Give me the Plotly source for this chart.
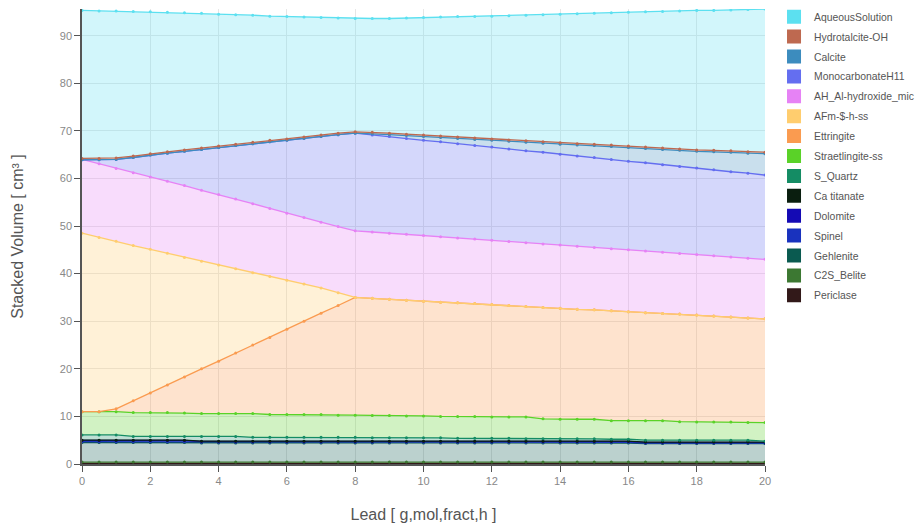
import plotly.graph_objects as go

# x values (Lead amount)
lead = [0, 0.5, 1, 1.5, 2, 2.5, 3, 3.5, 4, 4.5, 5, 5.5, 6, 6.5, 7, 7.5, 8, 8.5, 9, 9.5,
        10, 10.5, 11, 11.5, 12, 12.5, 13, 13.5, 14, 14.5, 15, 15.5, 16, 16.5, 17, 17.5,
        18, 18.5, 19, 19.5, 20]

# cumulative (stacked) volume tops, bottom phase first
top_periclase = [0.15] * 41
top_c2s_belite = [0.4] * 41
top_gehlenite = [4.5, 4.5, 4.5, 4.5, 4.5, 4.5, 4.5, 4.4, 4.4, 4.4, 4.4, 4.4, 4.4, 4.4, 4.4, 4.4,
                 4.4, 4.4, 4.4, 4.4, 4.4, 4.4, 4.4, 4.4, 4.4, 4.4, 4.4, 4.4, 4.4, 4.4, 4.4, 4.4,
                 4.4, 4.3, 4.3, 4.3, 4.3, 4.3, 4.3, 4.3, 4.3]
top_spinel = [4.7, 4.7, 4.7, 4.7, 4.7, 4.7, 4.7, 4.55, 4.55, 4.55, 4.55, 4.55, 4.55, 4.55, 4.55, 4.55,
              4.55, 4.55, 4.55, 4.55, 4.55, 4.55, 4.55, 4.55, 4.55, 4.55, 4.55, 4.55, 4.55, 4.55, 4.55, 4.55,
              4.55, 4.4, 4.4, 4.4, 4.4, 4.4, 4.4, 4.4, 4.4]
top_dolomite = [4.95, 4.95, 4.95, 4.95, 4.95, 4.95, 4.95, 4.75, 4.75, 4.75, 4.75, 4.75, 4.75, 4.75, 4.75, 4.75,
                4.75, 4.75, 4.75, 4.75, 4.75, 4.75, 4.75, 4.75, 4.75, 4.75, 4.75, 4.75, 4.75, 4.75, 4.75, 4.75,
                4.75, 4.55, 4.55, 4.55, 4.55, 4.55, 4.55, 4.55, 4.55]
top_ca_titanate = [5.0, 5.0, 5.0, 5.0, 5.0, 5.0, 5.0, 4.8, 4.8, 4.8, 4.8, 4.8, 4.8, 4.8, 4.8, 4.8,
                   4.8, 4.8, 4.8, 4.8, 4.8, 4.8, 4.8, 4.8, 4.8, 4.8, 4.8, 4.8, 4.8, 4.8, 4.8, 4.8,
                   4.8, 4.6, 4.6, 4.6, 4.6, 4.6, 4.6, 4.6, 4.6]
top_s_quartz = [6.1, 6.1, 6.1, 5.8, 5.8, 5.8, 5.8, 5.8, 5.8, 5.8, 5.6, 5.6, 5.6, 5.6, 5.6, 5.6,
                5.6, 5.5, 5.5, 5.5, 5.5, 5.5, 5.4, 5.4, 5.4, 5.4, 5.3, 5.3, 5.3, 5.3, 5.3, 5.2,
                5.2, 5.0, 5.0, 5.0, 5.0, 5.0, 5.0, 5.0, 4.8]
top_straetlingite = [11.0, 11.0, 11.0, 10.8, 10.8, 10.8, 10.7, 10.6, 10.6, 10.6, 10.6, 10.4, 10.4, 10.4,
                     10.4, 10.25, 10.25, 10.2, 10.2, 10.1, 10.1, 10.0, 10.0, 10.0, 9.9, 9.9, 9.9, 9.5,
                     9.4, 9.4, 9.4, 9.1, 9.1, 9.1, 9.1, 8.9, 8.85, 8.85, 8.85, 8.7, 8.7]
top_ettringite = [11.0, 11.0, 11.6, 13.3, 14.9, 16.6, 18.3, 20.0, 21.6, 23.3, 25.0, 26.6, 28.3, 30.0,
                  31.7, 33.3, 35.0, 34.8, 34.6, 34.4, 34.2, 34.0, 33.9, 33.7, 33.5, 33.3, 33.1, 32.9,
                  32.7, 32.5, 32.4, 32.2, 32.0, 31.8, 31.6, 31.5, 31.3, 31.1, 30.9, 30.7, 30.5]
top_afm = [48.5, 47.6, 46.8, 45.9, 45.1, 44.3, 43.4, 42.6, 41.8, 41.0, 40.2, 39.4, 38.6, 37.8,
           37.0, 36.0, 35.0, 34.8, 34.6, 34.4, 34.2, 34.0, 33.9, 33.7, 33.5, 33.3, 33.1, 32.9,
           32.7, 32.5, 32.4, 32.2, 32.0, 31.8, 31.6, 31.5, 31.3, 31.1, 30.9, 30.7, 30.5]
top_ah = [64.0, 63.1, 62.1, 61.2, 60.3, 59.4, 58.5, 57.5, 56.6, 55.7, 54.7, 53.7, 52.7, 51.8,
          50.8, 49.9, 49.0, 48.75, 48.5, 48.25, 48.0, 47.75, 47.5, 47.25, 47.0, 46.75, 46.5, 46.25,
          46.0, 45.75, 45.5, 45.25, 45.0, 44.75, 44.5, 44.25, 44.0, 43.75, 43.5, 43.25, 43.0]
top_monocarbonate = [63.9, 63.9, 64.0, 64.4, 64.9, 65.3, 65.7, 66.1, 66.5, 66.9, 67.3, 67.7, 68.0, 68.4,
                     68.8, 69.2, 69.5, 69.1, 68.8, 68.4, 68.0, 67.7, 67.3, 66.9, 66.6, 66.2, 65.8, 65.5,
                     65.1, 64.7, 64.4, 64.0, 63.6, 63.3, 62.9, 62.5, 62.2, 61.8, 61.4, 61.1, 60.7]
top_calcite = [63.9, 63.9, 64.0, 64.4, 64.9, 65.3, 65.7, 66.1, 66.5, 66.9, 67.3, 67.7, 68.0, 68.4,
               68.8, 69.2, 69.5, 69.4, 69.2, 69.0, 68.8, 68.6, 68.4, 68.2, 68.0, 67.8, 67.6, 67.4,
               67.2, 67.0, 66.9, 66.7, 66.5, 66.3, 66.1, 65.9, 65.7, 65.6, 65.5, 65.3, 65.2]
top_hydrotalcite = [64.2, 64.2, 64.3, 64.7, 65.2, 65.6, 66.0, 66.4, 66.8, 67.2, 67.6, 68.0, 68.3, 68.7,
                    69.1, 69.5, 69.8, 69.7, 69.5, 69.3, 69.1, 68.9, 68.7, 68.5, 68.3, 68.1, 67.9, 67.7,
                    67.5, 67.3, 67.2, 67.0, 66.8, 66.6, 66.4, 66.2, 66.0, 65.9, 65.8, 65.6, 65.5]
top_aqueous = [95.3, 95.2, 95.2, 95.1, 95.0, 94.9, 94.8, 94.7, 94.5, 94.4, 94.3, 94.1, 94.0, 93.9,
               93.8, 93.7, 93.6, 93.6, 93.6, 93.7, 93.8, 93.9, 94.0, 94.0, 94.1, 94.2, 94.3, 94.4,
               94.5, 94.6, 94.7, 94.8, 94.9, 95.0, 95.1, 95.2, 95.3, 95.3, 95.4, 95.5, 95.6]

phase_names = ["Periclase", "C2S_Belite", "Gehlenite", "Spinel", "Dolomite", "Ca titanate",
               "S_Quartz", "Straetlingite-ss", "Ettringite", "AFm-$-h-ss", "AH_Al-hydroxide_mic",
               "MonocarbonateH11", "Calcite", "Hydrotalcite-OH", "AqueousSolution"]
phase_tops = [top_periclase, top_c2s_belite, top_gehlenite, top_spinel, top_dolomite,
              top_ca_titanate, top_s_quartz, top_straetlingite, top_ettringite, top_afm,
              top_ah, top_monocarbonate, top_calcite, top_hydrotalcite, top_aqueous]
phase_colors = ["#321919", "#3C7832", "#0A5A50", "#1932BE", "#140AB4", "#0A1E0F",
                "#148C64", "#5AD228", "#FA9B50", "#FFCD6E", "#E682F5",
                "#646EF0", "#3C8CBE", "#BE6950", "#5CE0F0"]


def rgba(hex_color, a):
    h = hex_color.lstrip("#")
    r, g, b = int(h[0:2], 16), int(h[2:4], 16), int(h[4:6], 16)
    return f"rgba({r},{g},{b},{a})"


fig = go.Figure()
for i, (name, tops, col) in enumerate(zip(phase_names, phase_tops, phase_colors)):
    fig.add_trace(go.Scatter(
        x=lead, y=tops, name=name, mode="lines+markers",
        line=dict(color=col, width=1.3),
        marker=dict(color=col, size=3),
        fill="tozeroy" if i == 0 else "tonexty",
        fillcolor=rgba(col, 0.28),
        showlegend=False, hoverinfo="x+y+name",
    ))

# legend entries (square swatches), top phase first
for name, col in zip(reversed(phase_names), reversed(phase_colors)):
    fig.add_trace(go.Scatter(
        x=[None], y=[None], name=name, mode="markers", legendgroup=name,
        marker=dict(color=col, size=14, symbol="square"),
        showlegend=True,
    ))

fig.update_layout(
    width=916, height=527,
    margin=dict(l=82, r=151, t=9, b=63, autoexpand=False),
    paper_bgcolor="white", plot_bgcolor="white",
    font=dict(family="Liberation Sans, Arial, sans-serif", color="#555", size=12),
    legend=dict(x=1.0132, y=1.015, xanchor="left", yanchor="top", traceorder="grouped",
                tracegroupgap=0.9, maxheight=1.0,
                font=dict(size=10.4, color="#555"), itemsizing="trace",
                bgcolor="rgba(0,0,0,0)"),
    xaxis=dict(
        range=[0, 20], dtick=2, tick0=0, automargin=False,
        showgrid=True, gridcolor="#e6e6e6", gridwidth=1,
        showline=True, linecolor="#555", linewidth=1.5,
        ticks="outside", ticklen=6, tickcolor="#555",
        tickfont=dict(size=11, color="#888"), zeroline=False,
        title=dict(text="Lead [ g,mol,fract,h ]", font=dict(size=16, color="#555"), standoff=23),
    ),
    yaxis=dict(
        range=[0, 95.6], dtick=10, tick0=0, automargin=False,
        showgrid=True, gridcolor="#e6e6e6", gridwidth=1,
        showline=True, linecolor="#555", linewidth=1.5,
        ticks="outside", ticklen=6, tickcolor="#555",
        tickfont=dict(size=11, color="#888"), zeroline=False,
        title=dict(text="Stacked Volume [ cm³ ]", font=dict(size=16, color="#555"), standoff=32),
    ),
)

fig.write_html("out.html", config={"displayModeBar": False},
               post_script="document.body.style.margin='0px';")
